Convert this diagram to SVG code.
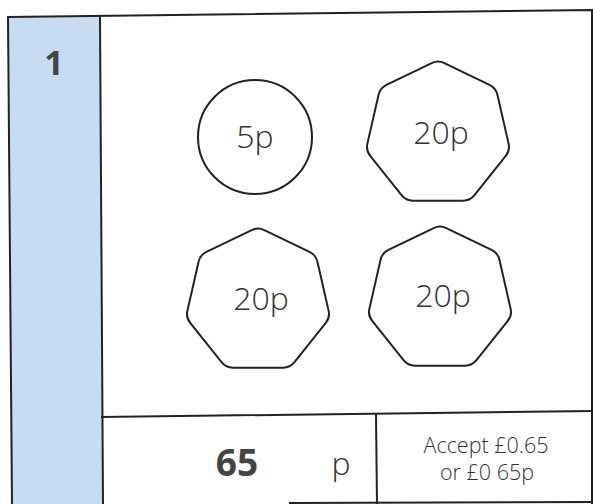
<svg xmlns="http://www.w3.org/2000/svg" width="593" height="504" viewBox="0 0 593 504">
<defs>
<style>
.frame{fill:none;stroke:#222;stroke-width:2;stroke-linecap:square}
.coin{fill:#fff;stroke:#222;stroke-width:2}
.lbl{font-family:"Open Sans","Liberation Sans",sans-serif;font-weight:300;font-size:32px;fill:#333;text-anchor:middle}
.small{font-family:"Open Sans","Liberation Sans",sans-serif;font-weight:300;font-size:21.5px;fill:#333;text-anchor:middle}
.bold{font-family:"Open Sans","Liberation Sans",sans-serif;font-weight:700;fill:#444;text-anchor:middle}
</style>
<path id="hept" d="M6.306,-70.963 L51.549,-49.175 Q57.855,-46.138 59.413,-39.314 L70.587,9.642 Q72.145,16.466 67.781,21.938 L36.471,61.2 Q32.107,66.672 25.108,66.672 L-25.108,66.672 Q-32.107,66.672 -36.471,61.2 L-67.781,21.938 Q-72.145,16.466 -70.587,9.642 L-59.413,-39.314 Q-57.855,-46.138 -51.549,-49.175 L-6.306,-70.963 Q0,-74 6.306,-70.963 Z"/>
</defs>
<rect width="593" height="504" fill="#fff"/>
<g id="sidebar">
<polygon points="8,17 100,16 103,504 12,504" fill="#c7dcf2"/>
<text class="bold" x="54" y="75" font-size="34">1</text>
</g>
<g id="grid">
<polyline class="frame" points="12,504 8,17 592,10 592,504"/>
<line class="frame" x1="100" y1="16" x2="103" y2="504"/>
<line class="frame" x1="102" y1="417" x2="592" y2="411"/>
<line class="frame" x1="376" y1="415" x2="377" y2="504"/>
<line class="frame" x1="290" y1="503" x2="592" y2="502"/>
</g>
<g id="coin-5p">
<circle class="coin" cx="255" cy="137" r="57"/>
<text class="lbl" x="255" y="148">5p</text>
</g>
<g id="coin-20p-a">
<use href="#hept" class="coin" transform="translate(438,134)"/>
<text class="lbl" x="441" y="144">20p</text>
</g>
<g id="coin-20p-b">
<use href="#hept" class="coin" transform="translate(258,301)"/>
<text class="lbl" x="261" y="310">20p</text>
</g>
<g id="coin-20p-c">
<use href="#hept" class="coin" transform="translate(440,299)"/>
<text class="lbl" x="443" y="307">20p</text>
</g>
<g id="answer">
<text class="bold" x="237" y="476" font-size="37">65</text>
<text class="lbl" x="341" y="475" font-size="36">p</text>
</g>
<g id="note">
<text class="small" x="486" y="453">Accept £0.65</text>
<text class="small" x="487" y="480">or £0 65p</text>
</g>
</svg>
